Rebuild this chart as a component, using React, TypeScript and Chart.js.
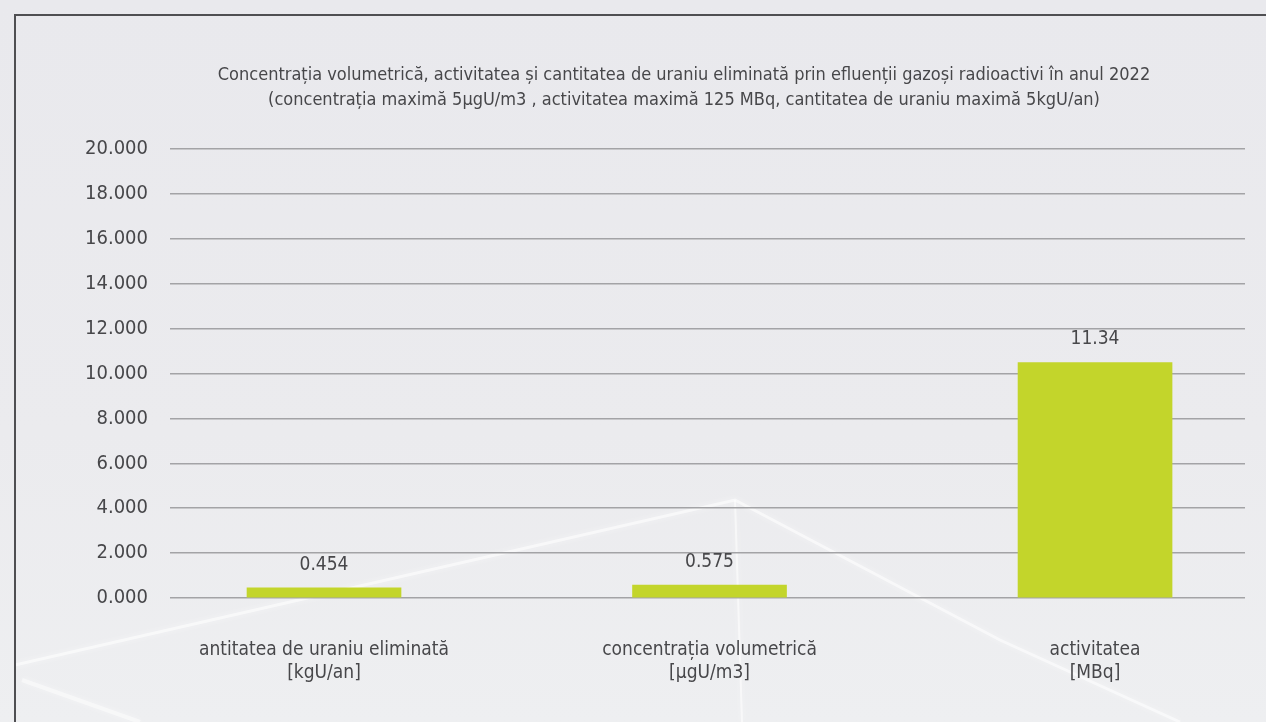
import React, { useEffect, useRef } from "react";
import { Chart, registerables } from "chart.js";

Chart.register(...registerables);

const titleLines = [
  "Concentrația volumetrică, activitatea și cantitatea de uraniu eliminată prin efluenții gazoși radioactivi în anul 2022",
  "(concentrația maximă 5µgU/m3 , activitatea maximă 125 MBq, cantitatea de uraniu maximă 5kgU/an)",
];
const categories: string[][] = [
  ["antitatea de uraniu eliminată", "[kgU/an]"],
  ["concentrația volumetrică", "[µgU/m3]"],
  ["activitatea", "[MBq]"],
];
const barValues = [0.454, 0.575, 10.49];
const valueLabels = ["0.454", "0.575", "11.34"];
const yTicks = [0, 2, 4, 6, 8, 10, 12, 14, 16, 18, 20];

const FONT = "'Liberation Sans Narrow', 'DejaVu Sans Condensed', 'Open Sans', sans-serif";
const TEXT = "#47474a";

const backgroundPlugin = {
  id: "bgFrame",
  beforeDraw(chart: any) {
    const { ctx, width, height } = chart;
    ctx.save();
    const g = ctx.createLinearGradient(0, 0, 0, height);
    g.addColorStop(0, "#e9e9ed");
    g.addColorStop(0.6, "#ebebee");
    g.addColorStop(1, "#eeeff1");
    ctx.fillStyle = g;
    ctx.fillRect(0, 0, width, height);
    // decorative soft light streaks
    ctx.shadowColor = "rgba(255,255,255,0.9)";
    ctx.shadowBlur = 6;
    ctx.strokeStyle = "rgba(255,255,255,0.55)";
    ctx.lineWidth = 3;
    ctx.beginPath();
    ctx.moveTo(15, 665);
    ctx.lineTo(735, 500);
    ctx.lineTo(1000, 640);
    ctx.lineTo(1180, 722);
    ctx.stroke();
    ctx.lineWidth = 2;
    ctx.beginPath();
    ctx.moveTo(735, 500);
    ctx.lineTo(742, 722);
    ctx.stroke();
    ctx.strokeStyle = "rgba(255,255,255,0.45)";
    ctx.lineWidth = 4;
    ctx.beginPath();
    ctx.moveTo(22, 680);
    ctx.lineTo(140, 722);
    ctx.stroke();
    ctx.shadowBlur = 0;
    // frame
    ctx.strokeStyle = "#4f4f52";
    ctx.lineWidth = 2;
    ctx.beginPath();
    ctx.moveTo(15, 722);
    ctx.lineTo(15, 15);
    ctx.lineTo(1266, 15);
    ctx.stroke();
    ctx.restore();
  },
};

const titlePlugin = {
  id: "customTitle",
  afterDraw(chart: any) {
    const { ctx } = chart;
    ctx.save();
    ctx.font = `18px ${FONT}`;
    ctx.fillStyle = TEXT;
    ctx.textAlign = "center";
    ctx.textBaseline = "middle";
    titleLines.forEach((line, i) => ctx.fillText(line, 684, 75 + i * 25));
    ctx.restore();
  },
};

const valueLabelPlugin = {
  id: "valueLabels",
  afterDatasetsDraw(chart: any) {
    const { ctx } = chart;
    const meta = chart.getDatasetMeta(0);
    ctx.save();
    ctx.font = `19px ${FONT}`;
    ctx.fillStyle = TEXT;
    ctx.textAlign = "center";
    ctx.textBaseline = "middle";
    meta.data.forEach((el: any, i: number) => {
      ctx.fillText(valueLabels[i], el.x, el.y - 23);
    });
    ctx.restore();
  },
};

export default function App() {
  const ref = useRef<HTMLCanvasElement | null>(null);
  useEffect(() => {
    document.body.style.margin = "0";
    const canvas = ref.current!;
    const chart = new Chart(canvas, {
      type: "bar",
      data: {
        datasets: [
          {
            data: barValues.map((v, i) => ({ x: i, y: v })),
            backgroundColor: "#c3d52b",
            barThickness: 154,
          },
        ],
      },
      options: {
        responsive: false,
        animation: false,
        layout: { padding: { left: 0, right: 21, top: 149, bottom: 0 } },
        plugins: {
          legend: { display: false },
          tooltip: { enabled: false },
          title: { display: false },
        },
        scales: {
          x: {
            type: "linear",
            offset: false,
            min: -0.3995,
            max: 2.389,
            grid: { display: false },
            border: { display: false },
            afterBuildTicks(scale: any) {
              scale.ticks = categories.map((_, i) => ({ value: i }));
            },
            afterFit(scale: any) {
              scale.height = 124;
            },
            ticks: {
              color: TEXT,
              font: { family: FONT, size: 19, lineHeight: 1.2 },
              padding: 33,
              maxRotation: 0,
              autoSkip: false,
              callback: (v: any) => categories[Math.round(Number(v))] ?? "",
            },
          },
          y: {
            min: 0,
            max: 20,
            border: { display: false },
            grid: { color: "#a3a3a6", lineWidth: 1.5, drawTicks: false },
            afterBuildTicks(scale: any) {
              scale.ticks = yTicks.map((v) => ({ value: v }));
            },
            afterFit(scale: any) {
              scale.width = 170;
            },
            ticks: {
              color: TEXT,
              font: { family: FONT, size: 20 },
              padding: 22,
              callback: (v: any) => Number(v).toFixed(3),
            },
          },
        },
      },
      plugins: [backgroundPlugin, valueLabelPlugin, titlePlugin],
    } as any);
    return () => chart.destroy();
  }, []);
  return <canvas ref={ref} width={1266} height={722} style={{ display: "block" }} />;
}
